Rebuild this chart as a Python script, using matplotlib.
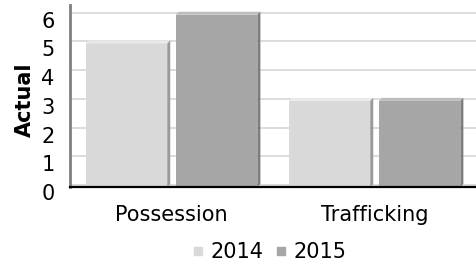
import numpy as np
import matplotlib
matplotlib.use("Agg")
import matplotlib.pyplot as plt
from matplotlib.patches import Polygon
from matplotlib.lines import Line2D
from matplotlib.transforms import ScaledTranslation

# data
categories = ["Possession", "Trafficking"]
years = ["2014", "2015"]
values_2014 = [5, 3]
values_2015 = [6, 3]

front_colors = ["#d9d9d9", "#a6a6a6"]
top_colors = ["#e9e9e9", "#bdbdbd"]
side_colors = ["#9a9a9a", "#7c7c7c"]

fig = plt.figure(figsize=(4.77, 2.64), dpi=100)
ax = fig.add_axes([70 / 477, 1 - 187 / 264, 406 / 477, 182 / 264])
ax.set_xlim(-0.5, 1.5)
ax.set_ylim(0, 6.34)

# pixel -> data conversion for the fake 3d faces
px_x = (1.5 - -0.5) / 406.0
px_y = 6.34 / 182.0
depth = 3

# back wall gridlines (sit a couple of pixels above the front plane)
grid_shift = ax.transData + ScaledTranslation(0, 2 / 100, fig.dpi_scale_trans)
for v in range(0, 7):
    ax.plot([-0.5, 1.5], [v, v], color="#d9d9d9", lw=1.3, transform=grid_shift,
            zorder=0, solid_capstyle="butt")

x = np.arange(len(categories))
width = 0.402
offset = 0.222
series = [values_2014, values_2015]
for i, vals in enumerate(series):
    xs = x + (i * 2 - 1) * offset
    ax.bar(xs, vals, width=width, color=front_colors[i], zorder=3, linewidth=0)
    for xc, h in zip(xs, vals):
        x0, x1 = xc - width / 2, xc + width / 2
        dx, dy = depth * px_x, depth * px_y
        top = Polygon([(x0, h), (x1, h), (x1 + dx, h + dy), (x0 + dx, h + dy)],
                      closed=True, facecolor=top_colors[i], edgecolor="none", zorder=3)
        side = Polygon([(x1, 0), (x1 + dx, dy), (x1 + dx, h + dy), (x1, h)],
                       closed=True, facecolor=side_colors[i], edgecolor="none", zorder=3)
        ax.add_patch(top)
        ax.add_patch(side)

for s in ["top", "right"]:
    ax.spines[s].set_visible(False)
ax.spines["left"].set_color("#7f7f7f")
ax.spines["left"].set_linewidth(2)
ax.spines["bottom"].set_color("black")
ax.spines["bottom"].set_linewidth(1.6)
ax.spines["bottom"].set_zorder(5)

ax.set_yticks(range(0, 7))
ax.set_xticks(x)
ax.set_xticklabels(categories)
ax.tick_params(axis="y", length=0, pad=11, labelsize=15)
ax.tick_params(axis="x", length=0, pad=13, labelsize=15)
for lab in ax.get_yticklabels():
    lab.set_transform(lab.get_transform() + ScaledTranslation(0, -5 / 100, fig.dpi_scale_trans))

fig.text(25 / 477, 1 - 100 / 264, "Actual", rotation=90, fontsize=15,
         fontweight="bold", ha="center", va="center")

handles = [Line2D([], [], marker="s", ls="", color=c, markersize=5.5) for c in front_colors]
fig.legend(handles, years, loc="center", bbox_to_anchor=(270 / 477, 1 - 252 / 264),
           ncol=2, frameon=False, fontsize=15, handlelength=0.5,
           handletextpad=0.35, columnspacing=0.6, borderpad=0)

fig.savefig("out.png", dpi=100)
